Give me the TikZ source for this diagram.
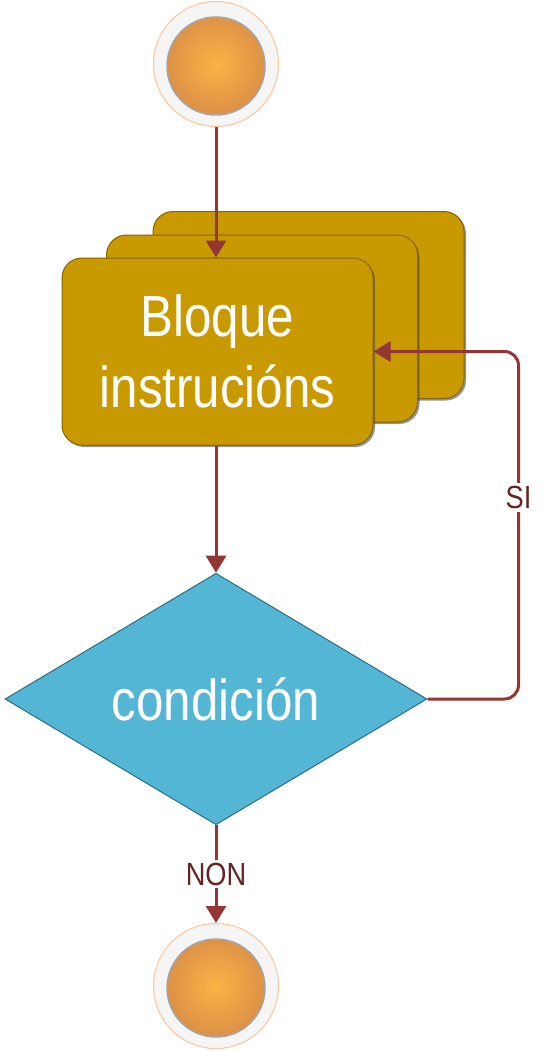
\documentclass[tikz,border=0pt]{standalone}
\usepackage{fontspec}
\setmainfont{Liberation Sans}[FakeStretch=0.85]
\usepackage{tikz}
\usetikzlibrary{arrows.meta,shapes.geometric,shadows,positioning}
\definecolor{flowred}{RGB}{148,54,52}
\definecolor{labelred}{RGB}{100,36,36}
\definecolor{blockgold}{RGB}{201,154,0}
\definecolor{condaqua}{RGB}{82,182,212}
\definecolor{ballorange}{RGB}{250,160,85}

\begin{document}
\begin{tikzpicture}[x=1pt,y=-1pt,
		endball/.style={circle,minimum size=125pt,inner sep=0pt,draw=ballorange!60,line width=1pt,
			fill=black!4,
			path picture={\shade[inner color=ballorange!80!yellow,outer color=ballorange!85!black,
				draw=black!35,line width=1.5pt]
				([yshift=-2pt]path picture bounding box.center) circle (49pt);}},
		blockbox/.style={rectangle,rounded corners=20pt,minimum width=311pt,minimum height=187pt,
			fill=blockgold,draw=blockgold!65!black,line width=1pt,
			drop shadow={shadow xshift=2pt,shadow yshift=-2pt,fill=black!70,opacity=.6},
			text=white,align=center,font=\fontsize{58}{71}\selectfont},
		condbox/.style={diamond,minimum width=422pt,minimum height=247pt,inner sep=0pt,
			fill=condaqua,draw=condaqua!60!black,line width=1pt,
			text=white,font=\fontsize{58}{71}\selectfont},
		flowline/.style={draw=flowred,line width=3pt,-{Triangle[length=17pt,width=20pt]}},
		flowlabel/.style={fill=white,text=labelred,inner sep=3pt,font=\fontsize{32}{36}\selectfont}]
	\useasboundingbox (0,0) rectangle (552,1051);
	% nodes
	\node[endball] (start) at (216,64) {};
	\node[blockbox] (back) at (308.5,305) {};
	\node[blockbox] (middle) at (262,328.5) {};
	\node[blockbox] (front) at (217.5,351.5) {Bloque\\instrucións};
	\node[condbox] (cond) at (216,699) {condición};
	\node[endball] (stop) at (216,986) {};
	% connectors
	\draw[flowline] (start) -- (front.north -| start);
	\draw[flowline] (front.south -| start) -- (cond.north);
	\draw[flowline,rounded corners=14pt] (cond.east) -- ++(91,0) |- (front.east)
		node[pos=0.29,flowlabel] {SI};
	\draw[flowline] (cond.south) -- (stop.north) node[midway,flowlabel] {NON};
\end{tikzpicture}
\end{document}
